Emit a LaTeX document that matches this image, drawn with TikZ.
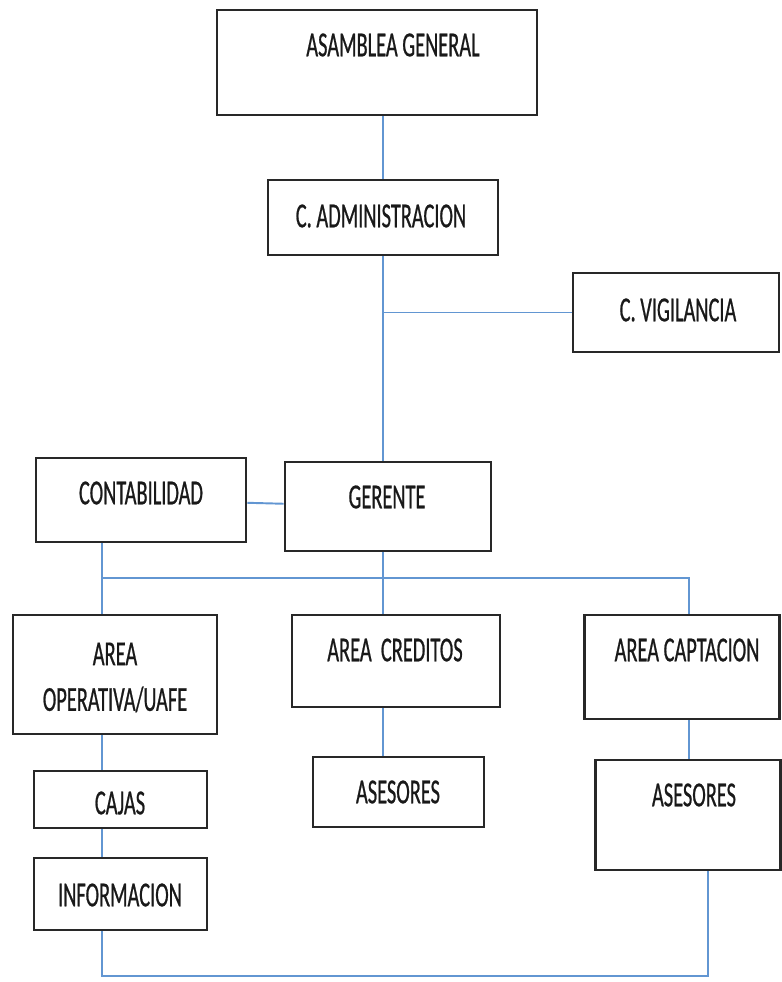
\documentclass[tikz,border=0pt]{standalone}
\usepackage{fontspec}
\setmainfont{Carlito}[FakeStretch=0.58, FakeBold=0.6]
\usepackage{tikz}
\usetikzlibrary{positioning}
\definecolor{linkblue}{RGB}{98,150,210}
\definecolor{boxgray}{RGB}{40,40,40}

\begin{document}
\begin{tikzpicture}[
  font=\fontsize{20}{24}\selectfont,
  unit/.style={rectangle, draw=boxgray, line width=1.5pt, fill=white, inner sep=0pt},
  lbl/.style={text=black!90, align=center, inner sep=0pt},
  link/.style={draw=linkblue, line width=1.1pt},
]
\useasboundingbox (0,0) rectangle (15.62,-19.64);

% === Top: assembly, board, supervision ===
\node[unit, minimum width=6.4cm, minimum height=2.1cm] (asamblea) at (7.54,-1.25) {};
\node[lbl] (asambleaTxt) at (7.86,-0.90) {ASAMBLEA GENERAL};

\node[unit, minimum width=4.6cm, minimum height=1.5cm] (admin) at (7.66,-4.35) {};
\node[lbl] (adminTxt) at (7.62,-4.32) {C. ADMINISTRACION};

\node[unit, minimum width=4.12cm, minimum height=1.58cm] (vigil) at (13.52,-6.25) {};
\node[lbl] (vigilTxt) at (13.56,-6.20) {C. VIGILANCIA};

% === Management ===
\node[unit, minimum width=4.2cm, minimum height=1.68cm] (contab) at (2.82,-10.00) {};
\node[lbl] (contabTxt) at (2.82,-9.86) {CONTABILIDAD};

\node[unit, minimum width=4.12cm, minimum height=1.78cm] (gerente) at (7.76,-10.13) {};
\node[lbl] (gerenteTxt) at (7.74,-9.94) {GERENTE};

% === Areas ===
\node[unit, minimum width=4.08cm, minimum height=2.38cm] (oper) at (2.30,-13.49) {};
\node[lbl] (operTxt) at (2.30,-13.55) {AREA\\[2pt]OPERATIVA/UAFE};

\node[unit, minimum width=4.16cm, minimum height=1.84cm] (creditos) at (7.92,-13.22) {};
\node[lbl] (creditosTxt) at (7.90,-13.00) {AREA~~CREDITOS};

\node[unit, minimum width=3.9cm, minimum height=2.08cm] (capt) at (13.64,-13.34) {};
\node[lbl] (captTxt) at (13.74,-13.00) {AREA CAPTACION};

% === Lower units ===
\node[unit, minimum width=3.46cm, minimum height=1.14cm] (cajas) at (2.41,-15.99) {};
\node[lbl] (cajasTxt) at (2.40,-16.06) {CAJAS};

\node[unit, minimum width=3.46cm, minimum height=1.44cm] (info) at (2.41,-17.88) {};
\node[lbl] (infoTxt) at (2.40,-17.90) {INFORMACION};

\node[unit, minimum width=3.42cm, minimum height=1.4cm] (asesA) at (7.97,-15.84) {};
\node[lbl] (asesATxt) at (7.96,-15.84) {ASESORES};

\node[unit, minimum width=3.7cm, minimum height=2.2cm] (asesB) at (13.76,-16.30) {};
\node[lbl] (asesBTxt) at (13.88,-15.90) {ASESORES};

% === Connectors ===
\coordinate (busL) at (2.04,-11.56);
\coordinate (busR) at (13.78,-11.56);
\coordinate (loopL) at (2.04,-19.52);
\coordinate (loopR) at (14.16,-19.52);

\draw[link] (admin.north) -- (admin.north |- asamblea.south);
\draw[link] (admin.south) -- (gerente.north -| admin.south);
\draw[link] (admin.south |- vigil.west) -- (vigil.west);
\draw[link] (contab) -- (gerente);

\draw[link] (busL) -- (busR) -- (capt.north -| busR);
\draw[link] (contab.south -| busL) -- (oper.north -| busL);
\draw[link] (gerente.south -| admin.south) -- (creditos.north -| admin.south);

\draw[link] (oper.south -| busL) -- (cajas.north -| busL);
\draw[link] (cajas.south -| busL) -- (info.north -| busL);
\draw[link] (creditos.south -| admin.south) -- (asesA.north -| admin.south);
\draw[link] (capt.south -| busR) -- (asesB.north -| busR);

\draw[link] (info.south -| loopL) -- (loopL) -- (loopR) -- (asesB.south -| loopR);

\end{tikzpicture}
\end{document}
